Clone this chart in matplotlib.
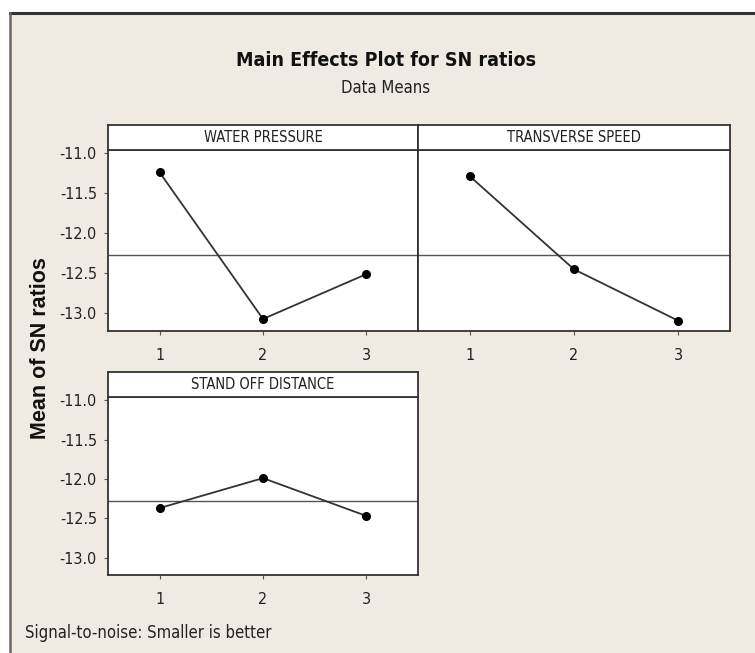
import matplotlib.pyplot as plt
from matplotlib.patches import Rectangle
from matplotlib.lines import Line2D
import numpy as np

# factor levels and mean S/N ratio at each level
levels = [1, 2, 3]
water_pressure = [-11.24, -13.07, -12.51]
transverse_speed = [-11.29, -12.45, -13.09]
stand_off_distance = [-12.37, -11.99, -12.47]
factor_names = ['WATER PRESSURE', 'TRANSVERSE SPEED', 'STAND OFF DISTANCE']
yticks = [-11.0, -11.5, -12.0, -12.5, -13.0]

grand_mean = np.mean(water_pressure + transverse_speed + stand_off_distance)

NARROW = dict(fontfamily='DejaVu Sans', fontstretch='condensed')
BG = '#efebe2'
W, H = 755, 653

fig = plt.figure(figsize=(W / 100, H / 100), dpi=100)
fig.patch.set_facecolor('white')

def px(x0, y0, x1, y1):
    # pixel box (top-left origin) -> figure fraction rect
    return [x0 / W, (H - y1) / H, (x1 - x0) / W, (y1 - y0) / H]

# beige window with dark frame edge
fig.patches.append(Rectangle((10 / W, 0), 1, (H - 13) / H, transform=fig.transFigure,
                             facecolor=BG, edgecolor='none', zorder=-10))
fig.lines.append(Line2D([10 / W, 1], [(H - 13) / H] * 2, transform=fig.transFigure,
                        color='#333333', lw=2.2, zorder=-5))
fig.lines.append(Line2D([10 / W] * 2, [0, (H - 13) / H], transform=fig.transFigure,
                        color='#666666', lw=1.8, zorder=-5))

panels = [
    (water_pressure, (108, 150, 418, 331), True),
    (transverse_speed, (418, 150, 730, 331), False),
    (stand_off_distance, (108, 397, 418, 575), True),
]

for (vals, box, show_y), name in zip(panels, factor_names):
    x0, y0, x1, y1 = box
    ax = fig.add_axes(px(x0, y0, x1, y1))
    ax.set_facecolor('white')
    ax.axhline(grand_mean, color='#555555', lw=1.0, zorder=1)
    ax.plot(levels, vals, color='#333333', lw=1.3, marker='o', ms=5.5,
            mfc='black', mec='black', zorder=3)
    ax.set_xlim(0.5, 3.5)
    ax.set_ylim(-13.22, -10.96)
    ax.set_xticks(levels)
    ax.set_xticklabels([str(l) for l in levels], fontsize=11.5, color='#222222', **NARROW)
    if show_y:
        ax.set_yticks(yticks)
        ax.set_yticklabels(['%.1f' % t for t in yticks], fontsize=11.5, color='#222222', **NARROW)
    else:
        ax.set_yticks([])
    ax.tick_params(direction='out', length=3, width=0.8, color='#555555')
    ax.tick_params(axis='x', pad=9)
    ax.tick_params(axis='y', pad=5)
    for s in ax.spines.values():
        s.set_color('#333333')
        s.set_linewidth(1.3)

    # header strip with factor name
    sx = fig.add_axes(px(x0, y0 - 25, x1, y0))
    sx.set_facecolor('white')
    sx.set_xticks([])
    sx.set_yticks([])
    for s in sx.spines.values():
        s.set_color('#333333')
        s.set_linewidth(1.3)
    sx.text(0.5, 0.5, name, ha='center', va='center', fontsize=10.5,
            color='#222222', transform=sx.transAxes, **NARROW)

fig.text(386 / W, 1 - 60 / H, 'Main Effects Plot for SN ratios', ha='center', va='center',
         fontweight='bold', fontsize=14, color='#111111', **NARROW)
fig.text(386 / W, 1 - 88 / H, 'Data Means', ha='center', va='center',
         fontsize=12, color='#222222', **NARROW)
fig.text(41 / W, 1 - 348 / H, 'Mean of SN ratios', ha='center', va='center', rotation=90,
         fontfamily='Liberation Sans', fontweight='bold', fontsize=15.5, color='#111111')
fig.text(25 / W, 1 - 633 / H, 'Signal-to-noise: Smaller is better', ha='left', va='center',
         fontsize=12, color='#222222', **NARROW)

fig.savefig('out.png', dpi=100, facecolor=fig.get_facecolor())
